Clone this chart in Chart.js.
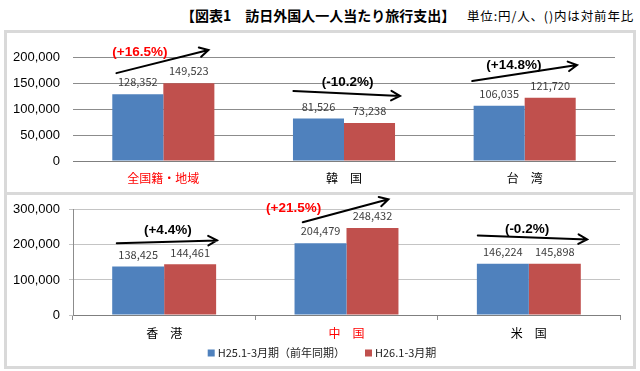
<!DOCTYPE html>
<html>
<head>
<meta charset="utf-8">
<script src="https://cdn.jsdelivr.net/npm/chart.js@4.4.1/dist/chart.umd.min.js"></script>
<style>
	body { margin: 0; background: #fff; width: 640px; height: 371px; overflow: hidden; position: relative; font-family: "Noto Sans CJK JP", sans-serif; }
	.panel { position: absolute; box-sizing: border-box; border: 3px solid #d9d9d9; }
	.cv { position: absolute; left: 0; }
	#title { position: absolute; left: 181px; top: 5px; font-size: 14px; font-weight: bold; white-space: nowrap; color: #000; }
	#unit { position: absolute; left: 467px; top: 6px; font-size: 12.5px; letter-spacing: 0.85px; white-space: nowrap; color: #000; }
</style>
</head>
<body>
<div id="title">【図表1　訪日外国人一人当たり旅行支出】</div>
<div id="unit">単位:円/人、()内は対前年比</div>
<div class="panel" style="left:4px;top:30px;width:632px;height:165px"></div>
<div class="panel" style="left:4px;top:192px;width:632px;height:177px"></div>
<div class="cv" style="top:30px;width:640px;height:165px"><canvas id="canvas_top"></canvas></div>
<div class="cv" style="top:193px;width:640px;height:178px"><canvas id="canvas_bottom"></canvas></div>
<script>
//data----------------
const seriesNames = ['H25.1-3月期（前年同期）', 'H26.1-3月期'];

const topCategories = ['全国籍・地域', '韓　国', '台　湾'];
const topH25 = [128352, 81526, 106035];
const topH26 = [149523, 73238, 121720];
const topChanges = ['(+16.5%)', '(-10.2%)', '(+14.8%)'];
const topTicks = [0, 50000, 100000, 150000, 200000];

const bottomCategories = ['香　港', '中　国', '米　国'];
const bottomH25 = [138425, 204479, 146224];
const bottomH26 = [144461, 248432, 145898];
const bottomChanges = ['(+4.4%)', '(+21.5%)', '(-0.2%)'];
const bottomTicks = [0, 100000, 200000, 300000];

//red highlighted categories (全国籍・地域, 中国)
const topHighlight = [true, false, false];
const bottomHighlight = [false, true, false];

//arrow annotations, in category offset / axis value units
const topArrows = [
	{ from: [-0.26, 169000], to: [0.25, 213500], label: [-0.13, 209600] },
	{ from: [-0.28, 134600], to: [0.31, 125000], label: [0.02, 151900] },
	{ from: [-0.29, 153800], to: [0.29, 184600], label: [-0.06, 184600] }
];
const bottomArrows = [
	{ from: [-0.26, 204500], to: [0.29, 212700], label: [0.02, 242700] },
	{ from: [-0.24, 264500], to: [0.23, 330000], label: [-0.29, 305400] },
	{ from: [-0.28, 226400], to: [0.32, 215500], label: [-0.01, 245400] }
];

const BLUE = '#4f81bd';
const RED = '#c0504d';
const GRID = '#8c8c8c';
const GRID_LIGHT = '#c4c4c4';

Chart.defaults.font.family = '"Noto Sans CJK JP", sans-serif';
Chart.defaults.animation = false;

//value labels above each bar
const valueLabels = {
	id: 'valueLabels',
	afterDatasetsDraw(chart) {
		const ctx = chart.ctx;
		ctx.save();
		ctx.font = '11px "Noto Sans CJK JP", sans-serif';
		ctx.fillStyle = '#404040';
		ctx.textAlign = 'center';
		ctx.textBaseline = 'middle';
		chart.data.datasets.forEach(function (ds, d) {
			chart.getDatasetMeta(d).data.forEach(function (bar, i) {
				ctx.fillText(ds.data[i].toLocaleString('en-US'), bar.x, bar.y - 12);
			});
		});
		ctx.restore();
	}
};

//change arrows with percentage text
const changeArrows = {
	id: 'changeArrows',
	afterDraw(chart, args, opts) {
		const ctx = chart.ctx;
		const xs = chart.scales.x, ys = chart.scales.y;
		ctx.save();
		opts.arrows.forEach(function (a, i) {
			var x1 = xs.getPixelForValue(i + a.from[0]), y1 = ys.getPixelForValue(a.from[1]);
			var x2 = xs.getPixelForValue(i + a.to[0]), y2 = ys.getPixelForValue(a.to[1]);
			ctx.strokeStyle = '#000';
			ctx.lineWidth = 2;
			ctx.lineCap = 'round';
			ctx.beginPath();
			ctx.moveTo(x1, y1);
			ctx.lineTo(x2, y2);
			var ang = Math.atan2(y2 - y1, x2 - x1);
			var len = 10;
			ctx.moveTo(x2 - len * Math.cos(ang - 0.5), y2 - len * Math.sin(ang - 0.5));
			ctx.lineTo(x2, y2);
			ctx.lineTo(x2 - len * Math.cos(ang + 0.5), y2 - len * Math.sin(ang + 0.5));
			ctx.stroke();

			ctx.font = 'bold 13.5px "Liberation Sans", sans-serif';
			ctx.textAlign = 'center';
			ctx.textBaseline = 'middle';
			ctx.fillStyle = opts.highlight[i] ? '#ff0000' : '#000';
			ctx.fillText(opts.changes[i], xs.getPixelForValue(i + a.label[0]), ys.getPixelForValue(a.label[1]));
		});
		ctx.restore();
	}
};

//legend row under the bottom chart (built-in legend can't space items like the original)
const seriesLegend = {
	id: 'seriesLegend',
	afterDraw(chart, args, opts) {
		if (!opts.show) return;
		const ctx = chart.ctx;
		ctx.save();
		ctx.font = '11px "Noto Sans CJK JP", sans-serif';
		ctx.textBaseline = 'middle';
		ctx.textAlign = 'left';
		var box = 7, gap = 3, spacing = 20;
		var items = chart.data.datasets.map(function (ds) {
			return { text: ds.label, color: ds.backgroundColor, w: box + gap + ctx.measureText(ds.label).width };
		});
		var total = items.reduce(function (s, it) { return s + it.w; }, 0) + spacing * (items.length - 1);
		var x = opts.centerX - total / 2;
		var y = chart.height - opts.bottom;
		items.forEach(function (it) {
			ctx.fillStyle = it.color;
			ctx.fillRect(x, y - box / 2, box, box);
			ctx.fillStyle = '#222';
			ctx.fillText(it.text, x + box + gap, y);
			x += it.w + spacing;
		});
		ctx.restore();
	}
};

function BuildConfig(categories, dataH25, dataH26, ticks, highlight, changes, arrows, isBottom) {
	var catPct = isBottom ? 0.57 : 0.565;
	return {
		type: 'bar',
		data: {
			labels: categories,
			datasets: [
				{ label: seriesNames[0], data: dataH25, backgroundColor: BLUE, barPercentage: 1, categoryPercentage: catPct },
				{ label: seriesNames[1], data: dataH26, backgroundColor: RED, barPercentage: 1, categoryPercentage: catPct }
			]
		},
		options: {
			responsive: true,
			maintainAspectRatio: false,
			layout: {
				padding: isBottom ? { top: 12, right: 20, left: 0, bottom: 0 } : { top: 27, right: 25, left: 0, bottom: 0 }
			},
			scales: {
				x: {
					afterFit: function (axis) { axis.height = isBottom ? 56 : 34; },
					grid: isBottom ? { offset: true, drawOnChartArea: false, tickLength: 5, color: GRID } : { display: false, drawTicks: false },
					border: { display: true, color: '#7f7f7f', width: 1 },
					ticks: {
						padding: isBottom ? 6 : 10,
						font: { size: 12 },
						color: function (c) { return highlight[c.index] ? '#ff0000' : '#000'; }
					}
				},
				y: {
					min: 0,
					max: ticks[ticks.length - 1],
					afterBuildTicks: function (axis) { axis.ticks = ticks.map(function (v) { return { value: v }; }); },
					afterFit: function (axis) { axis.width = 73; },
					grid: { color: isBottom ? GRID_LIGHT : GRID, drawTicks: isBottom, tickLength: 4 },
					border: { display: isBottom, color: GRID },
					ticks: {
						padding: isBottom ? 9 : 13,
						font: { family: '"Liberation Sans", sans-serif', size: 13 },
						color: '#000',
						callback: function (v) { return v.toLocaleString('en-US'); }
					}
				}
			},
			plugins: {
				title: { display: false },
				tooltip: { enabled: false },
				legend: { display: false },
				changeArrows: { arrows: arrows, changes: changes, highlight: highlight },
				seriesLegend: { show: isBottom, centerX: 322, bottom: 18 }
			}
		},
		plugins: [valueLabels, changeArrows, seriesLegend]
	};
}

window.onload = function () {
	new Chart(document.getElementById('canvas_top'),
		BuildConfig(topCategories, topH25, topH26, topTicks, topHighlight, topChanges, topArrows, false));
	new Chart(document.getElementById('canvas_bottom'),
		BuildConfig(bottomCategories, bottomH25, bottomH26, bottomTicks, bottomHighlight, bottomChanges, bottomArrows, true));
};
</script>
</body>
</html>
